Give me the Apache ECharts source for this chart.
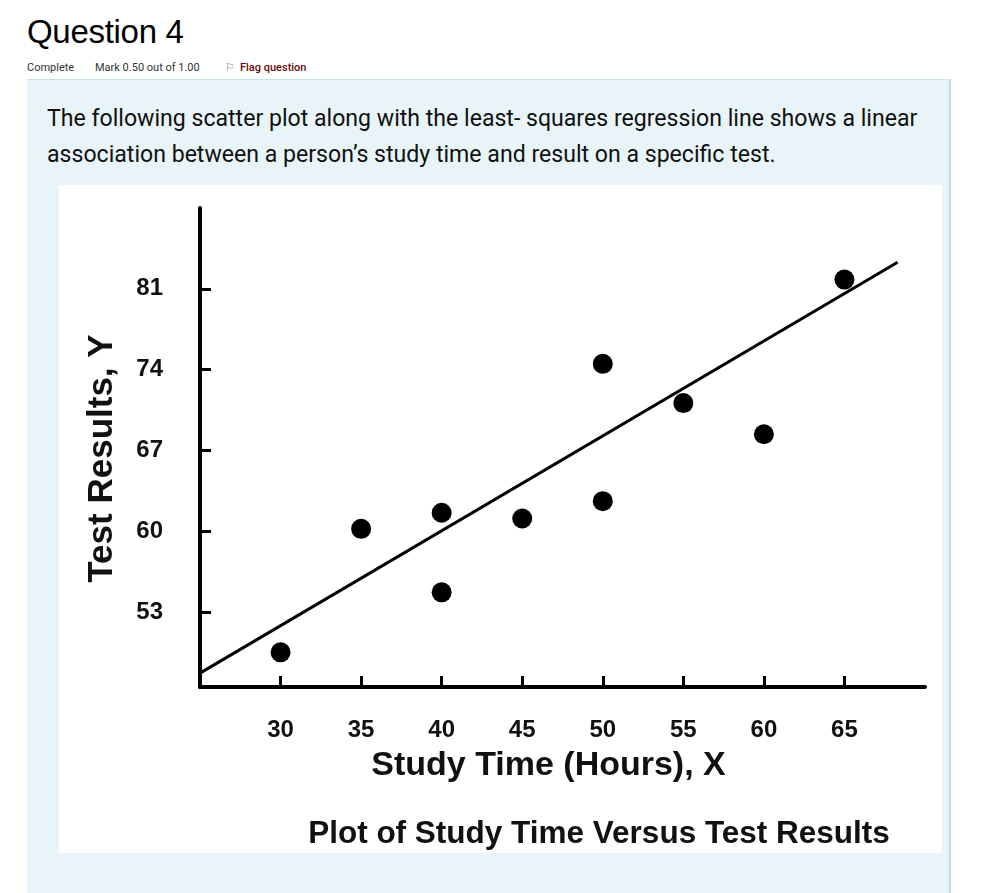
<!DOCTYPE html>
<html>
<head>
<meta charset="utf-8">
<script src="https://cdn.jsdelivr.net/npm/echarts@6/dist/echarts.min.js"></script>
<style>
html,body{margin:0;padding:0;background:#fff;width:1007px;height:893px;overflow:hidden;font-family:Roboto,"Liberation Sans",Arial,sans-serif;}
#q{position:absolute;left:27px;top:13px;font-size:33px;color:#000;font-family:"Liberation Sans",Arial,sans-serif;letter-spacing:-0.3px;}
#meta{position:absolute;left:27px;top:61px;font-size:11px;color:#333;}
#meta span{position:absolute;white-space:nowrap;}
#panel{position:absolute;left:27px;top:79px;width:922px;height:830px;background:#e8f4f7;border-top:1px solid #c9e2e8;border-right:2px solid #b5e1e6;}
#txt{position:absolute;left:47px;top:101px;font-size:23.1px;line-height:36px;color:#111;width:900px;white-space:nowrap;}
#chart{position:absolute;left:59px;top:185px;width:883px;height:668px;background:#fff;}
</style>
</head>
<body>
<div id="q">Question 4</div>
<div id="meta">
<span style="left:0">Complete</span>
<span style="left:68px">Mark 0.50 out of 1.00</span>
<span style="left:198px;color:#888">&#9872;</span>
<span style="left:213px;color:#6b0a0a;font-weight:500">Flag question</span>
</div>
<div id="panel"></div>
<div id="txt">The following scatter plot along with the least- squares regression line shows a linear<br>association between a person’s study time and result on a specific test.</div>
<div id="chart"></div>
<script>
// Data
const studyHours = [30, 35, 40, 40, 45, 50, 50, 55, 60, 65];
const testResults = [49.5, 60.2, 61.6, 54.7, 61.1, 74.5, 62.6, 71.1, 68.4, 81.8];
const regLineX = [25, 68.3];
const regLineY = [47.7, 83.3];
const xTicks = [30, 35, 40, 45, 50, 55, 60, 65];
const yTicks = [53, 60, 67, 74, 81];

const chart = echarts.init(document.getElementById('chart'));
const font = '"Liberation Sans", Arial, sans-serif';
chart.setOption({
  animation: false,
  backgroundColor: '#fff',
  title: {
    text: 'Plot of Study Time Versus Test Results',
    left: 535, top: 628, textAlign: 'center',
    textStyle: {fontFamily: font, fontSize: 31.5, fontWeight: 'bold', color: '#111'}
  },
  grid: {left: 141, top: 23, width: 725, height: 479},
  xAxis: {
    type: 'value', min: 25, max: 70,
    name: 'Study Time (Hours), X', nameLocation: 'middle', nameGap: 62,
    nameTextStyle: {fontFamily: font, fontSize: 34, fontWeight: 'bold', color: '#111', padding: [0, 28, 0, 0]},
    axisLine: {show: true, lineStyle: {color: '#000', width: 4}},
    axisTick: {show: true, inside: true, length: 11, lineStyle: {color: '#000', width: 3}, customValues: xTicks},
    axisLabel: {fontFamily: font, fontSize: 24, fontWeight: 'bold', color: '#111', margin: 31, customValues: xTicks},
    splitLine: {show: false}
  },
  yAxis: {
    type: 'value', min: 46.5, max: 88,
    name: 'Test Results, Y', nameLocation: 'middle', nameGap: 80, nameRotate: 90,
    nameTextStyle: {fontFamily: font, fontSize: 35, fontWeight: 'bold', color: '#111', padding: [0, 22, 0, 0]},
    axisLine: {show: true, lineStyle: {color: '#000', width: 4}},
    axisTick: {show: true, inside: true, length: 11, lineStyle: {color: '#000', width: 3}, customValues: yTicks},
    axisLabel: {fontFamily: font, fontSize: 24, fontWeight: 'bold', color: '#111', margin: 37, padding: [12, 0, 0, 0], customValues: yTicks},
    splitLine: {show: false}
  },
  series: [
    {
      type: 'line',
      data: regLineX.map((x, i) => [x, regLineY[i]]),
      symbol: 'none',
      lineStyle: {color: '#000', width: 3},
      z: 2
    },
    {
      type: 'scatter',
      data: studyHours.map((x, i) => [x, testResults[i]]),
      symbolSize: 20,
      itemStyle: {color: '#000', opacity: 1},
      z: 3
    }
  ]
});
</script>
</body>
</html>
